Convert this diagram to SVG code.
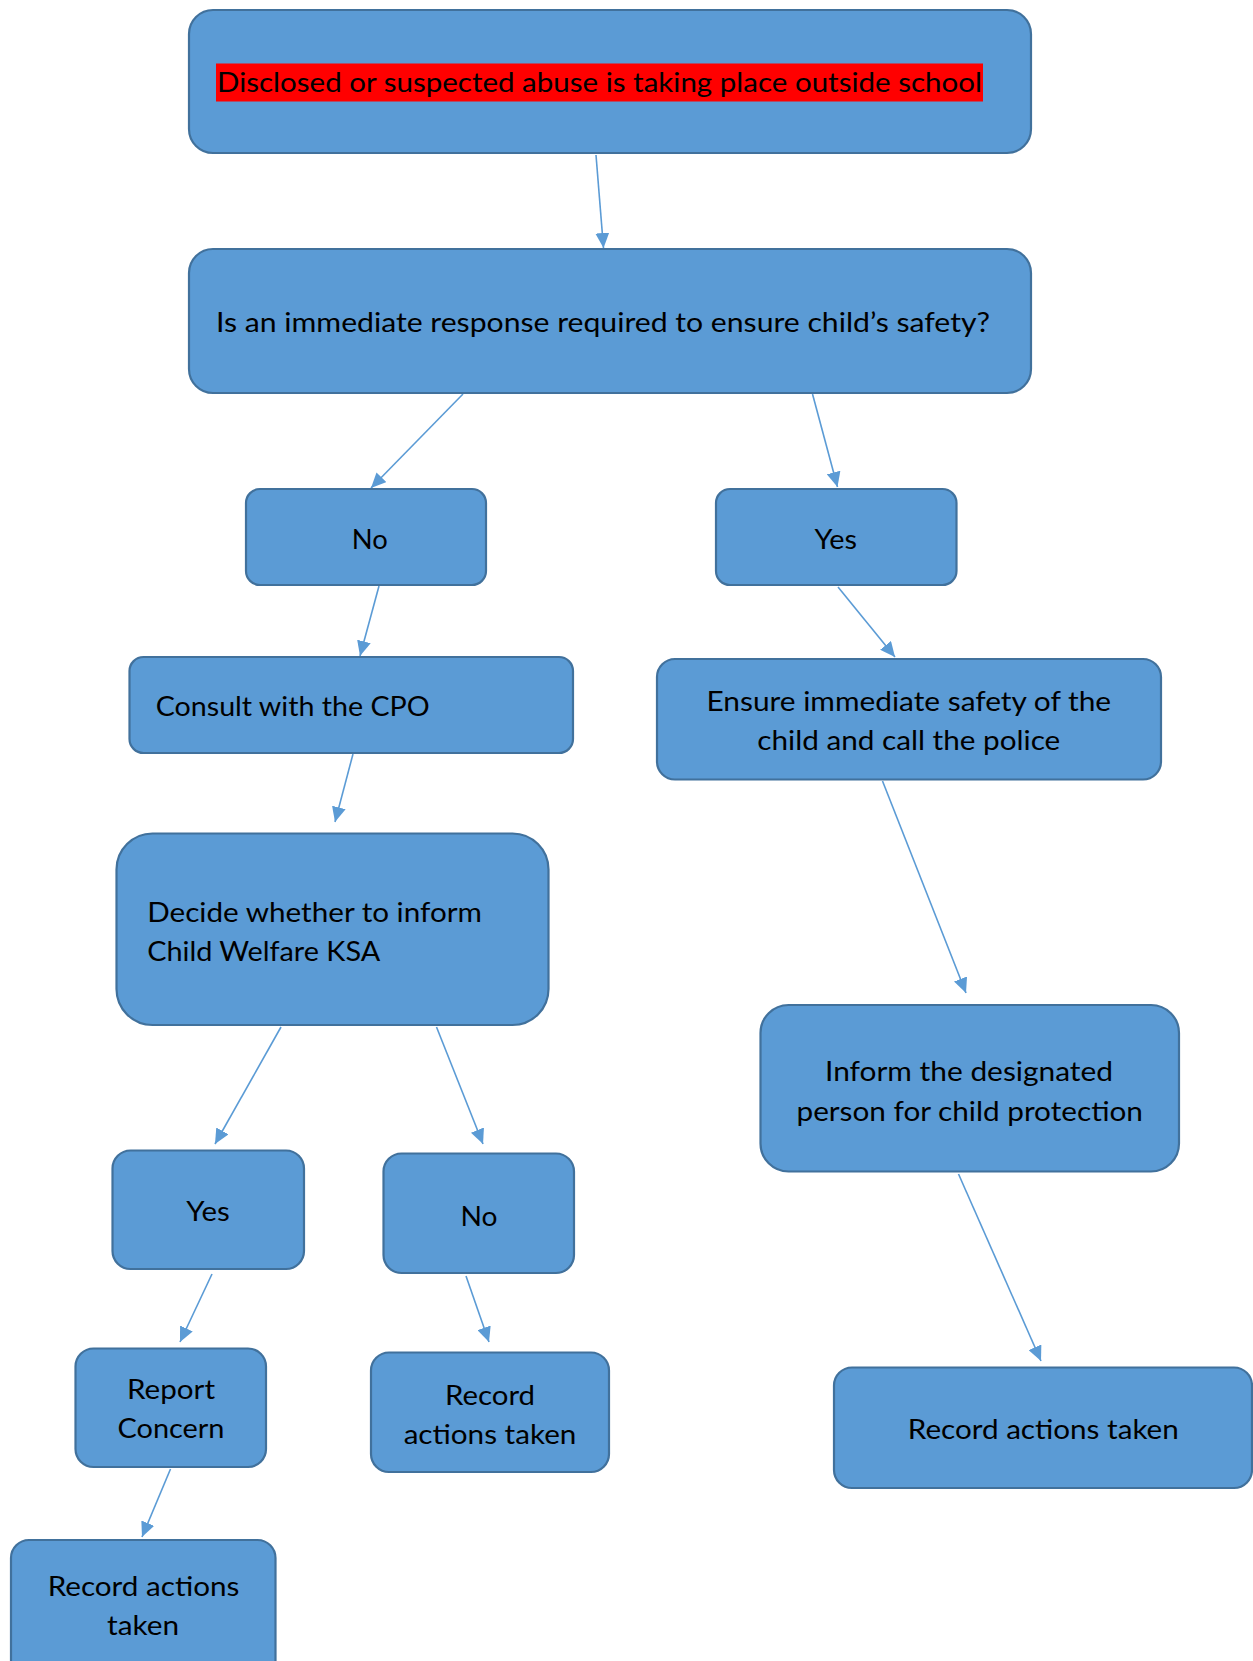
<svg xmlns="http://www.w3.org/2000/svg" width="1253" height="1661" viewBox="0 0 1253 1661">
<style>
.box{fill:#5B9BD5;stroke:#41719C;stroke-width:2.2}
.t{font-family:Lato,"Open Sans","Liberation Sans",sans-serif;font-size:27px;fill:#000}
.c{text-anchor:middle}
.edge{stroke:#5B9BD5;stroke-width:1.6;fill:none;marker-end:url(#ah)}
</style>
<defs>
<marker id="ah" markerUnits="userSpaceOnUse" markerWidth="16" markerHeight="14" refX="15" refY="7" orient="auto">
<path d="M0,0 L15,7 L0,14 Z" fill="#5B9BD5"/>
</marker>
</defs>
<rect width="1253" height="1661" fill="#fff"/>
<g id="connectors">
<line class="edge" x1="596" y1="155" x2="603.5" y2="248"/>
<line class="edge" x1="463" y1="394" x2="371" y2="488"/>
<line class="edge" x1="812.5" y1="394" x2="837.5" y2="487"/>
<line class="edge" x1="379" y1="586" x2="360" y2="656"/>
<line class="edge" x1="838" y1="587" x2="895" y2="657"/>
<line class="edge" x1="353" y1="754" x2="335" y2="822"/>
<line class="edge" x1="882.5" y1="781" x2="966" y2="993"/>
<line class="edge" x1="281" y1="1027" x2="215" y2="1144"/>
<line class="edge" x1="436.5" y1="1027" x2="483" y2="1144"/>
<line class="edge" x1="212" y1="1274" x2="180" y2="1342"/>
<line class="edge" x1="466" y1="1276" x2="489" y2="1342"/>
<line class="edge" x1="170.5" y1="1469" x2="142" y2="1537"/>
<line class="edge" x1="958.5" y1="1174" x2="1041" y2="1361"/>
</g>
<g id="n1">
<rect class="box" x="189" y="10" width="842" height="143" rx="24"/>
<rect x="216" y="63.5" width="767" height="38" fill="#FF0000"/>
<text class="t" x="217" y="92" textLength="765" lengthAdjust="spacingAndGlyphs">Disclosed or suspected abuse is taking place outside school</text>
</g>
<g id="n2">
<rect class="box" x="189" y="249" width="842" height="144" rx="24"/>
<text class="t" x="216" y="331.5" textLength="774" lengthAdjust="spacingAndGlyphs">Is an immediate response required to ensure child’s safety?</text>
</g>
<g id="n3">
<rect class="box" x="246" y="489" width="240" height="96" rx="14"/>
<text class="t c" x="369.7" y="548.6" textLength="36" lengthAdjust="spacingAndGlyphs">No</text>
</g>
<g id="n4">
<rect class="box" x="716" y="489" width="240.5" height="96" rx="14"/>
<text class="t c" x="835.7" y="548.6" textLength="42.5" lengthAdjust="spacingAndGlyphs">Yes</text>
</g>
<g id="n5">
<rect class="box" x="129.5" y="657" width="443.5" height="96" rx="14"/>
<text class="t" x="155.7" y="716" textLength="274" lengthAdjust="spacingAndGlyphs">Consult with the CPO</text>
</g>
<g id="n6">
<rect class="box" x="657" y="659" width="504" height="120.5" rx="18"/>
<text class="t c" x="908.8" y="710.7" textLength="404.6" lengthAdjust="spacingAndGlyphs">Ensure immediate safety of the</text>
<text class="t c" x="908.8" y="750" textLength="303" lengthAdjust="spacingAndGlyphs">child and call the police</text>
</g>
<g id="n7">
<rect class="box" x="116.5" y="833.5" width="432" height="191.5" rx="36"/>
<text class="t" x="147.2" y="921.5" textLength="334.7" lengthAdjust="spacingAndGlyphs">Decide whether to inform</text>
<text class="t" x="147.2" y="960.7" textLength="233" lengthAdjust="spacingAndGlyphs">Child Welfare KSA</text>
</g>
<g id="n8">
<rect class="box" x="760.5" y="1005" width="418.5" height="166.5" rx="28"/>
<text class="t c" x="969" y="1081.4" textLength="288" lengthAdjust="spacingAndGlyphs">Inform the designated</text>
<text class="t c" x="969.7" y="1120.6" textLength="346.4" lengthAdjust="spacingAndGlyphs">person for child protection</text>
</g>
<g id="n9">
<rect class="box" x="112.5" y="1150.5" width="191.5" height="118.5" rx="18"/>
<text class="t c" x="208" y="1221.3" textLength="43.4" lengthAdjust="spacingAndGlyphs">Yes</text>
</g>
<g id="n10">
<rect class="box" x="383.5" y="1153.5" width="190.5" height="119.5" rx="18"/>
<text class="t c" x="479" y="1225.5" textLength="37" lengthAdjust="spacingAndGlyphs">No</text>
</g>
<g id="n11">
<rect class="box" x="75.5" y="1348.5" width="190.5" height="118.5" rx="18"/>
<text class="t c" x="171" y="1399" textLength="88" lengthAdjust="spacingAndGlyphs">Report</text>
<text class="t c" x="171" y="1438.4" textLength="107" lengthAdjust="spacingAndGlyphs">Concern</text>
</g>
<g id="n12">
<rect class="box" x="371" y="1352.5" width="238" height="119.5" rx="18"/>
<text class="t c" x="490" y="1404.5" textLength="90" lengthAdjust="spacingAndGlyphs">Record</text>
<text class="t c" x="490" y="1443.7" textLength="172.7" lengthAdjust="spacingAndGlyphs">actions taken</text>
</g>
<g id="n13">
<rect class="box" x="11" y="1540" width="264.5" height="140" rx="18"/>
<text class="t c" x="143.5" y="1596.2" textLength="191.7" lengthAdjust="spacingAndGlyphs">Record actions</text>
<text class="t c" x="143" y="1635.4" textLength="72" lengthAdjust="spacingAndGlyphs">taken</text>
</g>
<g id="n14">
<rect class="box" x="834" y="1367.5" width="418" height="120.5" rx="18"/>
<text class="t c" x="1043.3" y="1439.4" textLength="271" lengthAdjust="spacingAndGlyphs">Record actions taken</text>
</g>
</svg>
